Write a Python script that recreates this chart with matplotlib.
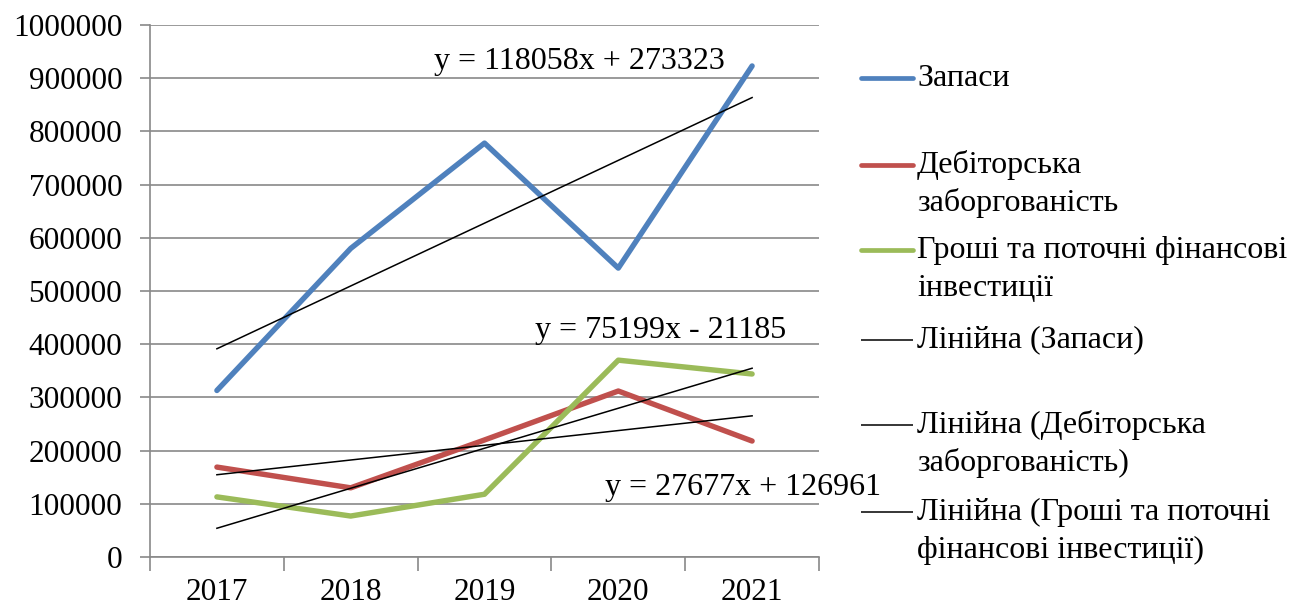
import numpy as np
from matplotlib import pyplot as plt
from matplotlib.lines import Line2D

plt.rcParams['font.family'] = ['Liberation Serif', 'DejaVu Serif']
plt.rcParams['font.size'] = 23

# дані по роках
years = ['2017', '2018', '2019', '2020', '2021']
zapasy = [313000, 580000, 778000, 543000, 923000]
debitorska = [169000, 130000, 220000, 312000, 218000]
groshi = [113000, 77000, 118000, 370000, 344000]

# коефіцієнти лінійних трендів (x = 1..5)
trend_zapasy = (118058, 273323)
trend_debitorska = (27677, 126961)
trend_groshi = (75199, -21185)

blue = '#4F81BD'
red = '#C0504D'
green = '#9BBB59'
grid_c = '#898989'

W, H = 1305, 607
fig = plt.figure(figsize=(W / 100, H / 100), dpi=100)
ax = fig.add_axes([150 / W, 1 - 557 / H, 669 / W, 532 / H])

x = np.arange(len(years))
n = x + 1

ax.plot(x, zapasy, color=blue, lw=3.9, solid_capstyle='round', solid_joinstyle='round', zorder=3)
ax.plot(x, debitorska, color=red, lw=3.9, solid_capstyle='round', solid_joinstyle='round', zorder=3)
ax.plot(x, groshi, color=green, lw=3.9, solid_capstyle='round', solid_joinstyle='round', zorder=3)

for k, b in (trend_zapasy, trend_debitorska, trend_groshi):
    ax.plot(x, k * n + b, color='black', lw=1.1, zorder=4)

ax.text(2.71, 932000, 'y = 118058x + 273323', ha='center', va='center', zorder=5)
ax.text(3.32, 426000, 'y = 75199x - 21185', ha='center', va='center', zorder=5)
ax.text(3.935, 131000, 'y = 27677x + 126961', ha='center', va='center', zorder=5, clip_on=False)

ax.set_xlim(-0.5, 4.5)
ax.set_ylim(0, 1000000)
ax.set_yticks(np.arange(0, 1000001, 100000))
ax.set_yticklabels([str(v) for v in range(0, 1000001, 100000)], fontsize=22.5)
ax.set_xticks(x)
ax.set_xticklabels(years, fontsize=22.5)
ax.set_xticks(np.arange(-0.5, 5, 1), minor=True)
ax.tick_params(axis='x', which='major', length=0, pad=15)
ax.tick_params(axis='x', which='minor', length=10, width=1.2, color=grid_c, direction='out')
ax.tick_params(axis='y', length=7, width=1.2, color=grid_c, pad=13)

ax.grid(axis='y', color=grid_c, lw=1.2)
ax.set_axisbelow(True)
for s in ('top', 'right'):
    ax.spines[s].set_visible(False)
for s in ('left', 'bottom'):
    ax.spines[s].set_color(grid_c)
    ax.spines[s].set_linewidth(1.2)

# легенда праворуч
legend_items = [
    (blue, 3.4, 78, ['Запаси']),
    (red, 3.4, 165, ['Дебіторська', 'заборгованість']),
    (green, 3.4, 250, ['Гроші та поточні фінансові', 'інвестиції']),
    ('black', 1.1, 340, ['Лінійна (Запаси)']),
    ('black', 1.1, 425, ['Лінійна (Дебіторська', 'заборгованість)']),
    ('black', 1.1, 512, ['Лінійна (Гроші та поточні', 'фінансові інвестиції)']),
]
for color, lw, ypx, lines in legend_items:
    yf = 1 - ypx / H
    fig.add_artist(Line2D([861 / W, 913 / W], [yf, yf], color=color, lw=lw,
                          solid_capstyle='round' if lw > 2 else 'butt',
                          transform=fig.transFigure))
    for i, t in enumerate(lines):
        fig.text(917 / W, 1 - (ypx + i * 38) / H, t, ha='left', va='center')

fig.savefig('out.png', dpi=100)
